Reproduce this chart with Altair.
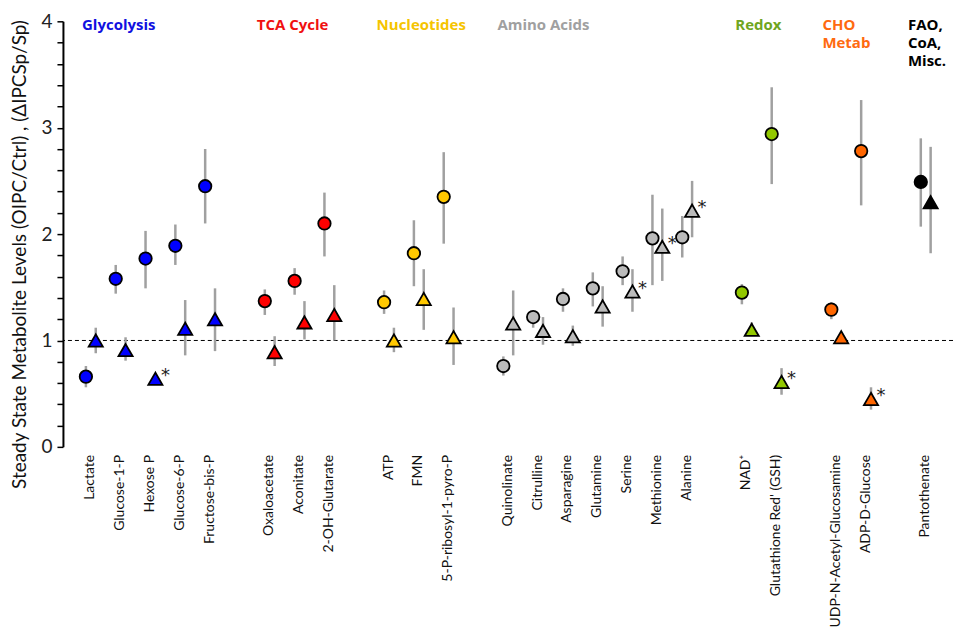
import altair as alt
import pandas as pd

names = ["Lactate", "Glucose-1-P", "Hexose P", "Glucose-6-P", "Fructose-bis-P",
         "Oxaloacetate", "Aconitate", "2-OH-Glutarate",
         "ATP", "FMN", "5-P-ribosyl-1-pyro-P",
         "Quinolinate", "Citrulline", "Asparagine", "Glutamine", "Serine", "Methionine", "Alanine",
         "NAD⁺", "Glutathione Red' (GSH)",
         "UDP-N-Acetyl-Glucosamine", "ADP-D-Glucose",
         "Pantothenate"]
groups = ["Glycolysis"] * 5 + ["TCA Cycle"] * 3 + ["Nucleotides"] * 3 + ["Amino Acids"] * 7 + \
         ["Redox"] * 2 + ["CHO Metab"] * 2 + ["FAO, CoA, Misc."]
slots = [0, 1, 2, 3, 4, 6, 7, 8, 10, 11, 12, 14, 15, 16, 17, 18, 19, 20, 22, 23, 25, 26, 28]

ipc = [0.66, 1.58, 1.77, 1.89, 2.45, 1.37, 1.56, 2.10, 1.36, 1.82, 2.35,
       0.76, 1.22, 1.39, 1.49, 1.65, 1.96, 1.97, 1.45, 2.94, 1.29, 2.78, 2.49]
ipc_lo = [0.56, 1.44, 1.49, 1.71, 2.10, 1.24, 1.43, 1.79, 1.25, 1.51, 1.91,
          0.67, 1.12, 1.27, 1.32, 1.52, 1.52, 1.78, 1.34, 2.47, 1.20, 2.27, 2.07]
ipc_hi = [0.76, 1.71, 2.03, 2.09, 2.80, 1.48, 1.68, 2.39, 1.47, 2.13, 2.77,
          0.85, 1.27, 1.49, 1.64, 1.79, 2.37, 2.17, 1.53, 3.38, 1.36, 3.26, 2.90]
sp = [1.00, 0.91, 0.64, 1.11, 1.20, 0.89, 1.17, 1.24, 1.00, 1.39, 1.03,
      1.16, 1.09, 1.04, 1.32, 1.46, 1.88, 2.22, 1.10, 0.61, 1.03, 0.45, 2.30]
sp_lo = [0.88, 0.81, 0.64, 0.86, 0.90, 0.76, 1.01, 1.00, 0.89, 1.10, 0.77,
         0.86, 0.96, 0.95, 1.13, 1.27, 1.56, 1.97, 1.05, 0.49, 0.98, 0.35, 1.82]
sp_hi = [1.12, 1.03, 0.64, 1.38, 1.49, 1.04, 1.37, 1.52, 1.12, 1.67, 1.31,
         1.47, 1.22, 1.14, 1.51, 1.67, 2.24, 2.50, 1.17, 0.74, 1.08, 0.56, 2.82]
sig = [False, False, True, False, False, False, False, False, False, False, False,
       False, False, False, False, True, True, True, False, True, False, True, False]

group_names = ["Glycolysis", "TCA Cycle", "Nucleotides", "Amino Acids", "Redox", "CHO Metab", "FAO, CoA, Misc."]
group_colors = ["#0000FF", "#FF0000", "#FFC800", "#BBBBBB", "#92C800", "#FF6600", "#000000"]
group_title_colors = ["#1010E0", "#F01010", "#F5C400", "#A0A0A0", "#6FA521", "#FF6A10", "#000000"]
group_title_text = ["Glycolysis", "TCA Cycle", "Nucleotides", "Amino Acids", "Redox", "CHO\nMetab", "FAO,\nCoA,\nMisc."]
group_title_slot = [-0.13, 5.73, 9.75, 13.8, 21.78, 24.7, 27.57]

FONT = "Lato"
TFONT = "Open Sans"

df = pd.DataFrame({
    "name": names, "group": groups, "slot": slots,
    "ipc": ipc, "ipc_lo": ipc_lo, "ipc_hi": ipc_hi,
    "sp": sp, "sp_lo": sp_lo, "sp_hi": sp_hi, "sig": sig,
})
df["slot_tri"] = df["slot"] + 0.33
df["slot_lab"] = df["slot"] + 0.15

gdf = pd.DataFrame({"group": group_names, "text": group_title_text,
                    "slot": group_title_slot, "tcolor": group_title_colors})

xscale = alt.Scale(domain=[-0.77, 29.08], nice=False, zero=False)
yscale = alt.Scale(domain=[0, 4], nice=False, zero=True)
cscale = alt.Scale(domain=group_names, range=group_colors)

tick_vals = [round(i * 0.2, 1) for i in range(21)]

base = alt.Chart(df)

yaxis = alt.Axis(values=tick_vals,
                 labelExpr="abs(datum.value - round(datum.value)) < 0.001 ? format(datum.value, 'd') : ''",
                 labelOverlap=False, labelBound=False,
                 grid=False, domainColor="black", domainWidth=2, tickColor="black",
                 tickWidth=1.5, tickSize=6, labelFontSize=19, labelFont=FONT, labelColor="#222",
                 labelPadding=5,
                 title="Steady State Metabolite Levels  (OIPC/Ctrl) , (ΔIPCSp/Sp)",
                 titleFont=FONT, titleFontSize=19, titleFontWeight="normal", titleColor="#111",
                 titleAngle=270, titleX=-43, titleY=233, titleBaseline="middle", titleAlign="center")


def Y(field):
    return alt.Y(field, scale=yscale, axis=yaxis)


def X(field):
    return alt.X(field, scale=xscale, axis=None)


ref = alt.Chart(pd.DataFrame({"v": [1]})).mark_rule(
    color="black", strokeDash=[4, 3], strokeWidth=1
).encode(y=Y("v:Q"))

err_c = base.mark_rule(color="#A0A0A0", strokeWidth=2.5).encode(
    x=X("slot:Q"), y=Y("ipc_lo:Q"), y2="ipc_hi:Q")
err_t = base.mark_rule(color="#A0A0A0", strokeWidth=2.5).encode(
    x=X("slot_tri:Q"), y=Y("sp_lo:Q"), y2="sp_hi:Q")

circ = base.mark_point(shape="circle", filled=True, size=155, stroke="black",
                       strokeWidth=1.8, opacity=1).encode(
    x=X("slot:Q"), y=Y("ipc:Q"),
    fill=alt.Fill("group:N", scale=cscale, legend=None))
tri = base.mark_point(shape="triangle-up", filled=True, size=200, stroke="black",
                      strokeWidth=1.8, opacity=1).encode(
    x=X("slot_tri:Q"), y=Y("sp:Q"),
    fill=alt.Fill("group:N", scale=cscale, legend=None))

stars = base.transform_filter("datum.sig").mark_text(
    text="*", fontSize=18, font="DejaVu Sans", dx=10, dy=-3, color="#222").encode(
    x=X("slot_tri:Q"), y=Y("sp:Q"))

labels = base.mark_text(angle=270, align="right", baseline="middle", fontSize=14,
                        font=FONT, color="#111").encode(
    x=X("slot_lab:Q"),
    y=alt.value(434),
    text="name:N")

gtitles = alt.Chart(gdf).mark_text(align="left", baseline="top", fontSize=15, font=TFONT,
                                   fontWeight="bold", lineHeight=18, lineBreak="\n").encode(
    x=X("slot:Q"),
    y=alt.value(-3),
    text="text:N",
    color=alt.Color("tcolor:N", scale=None))

chart = alt.layer(ref, err_c, err_t, circ, tri, stars, labels, gtitles).properties(
    width=891, height=426,
    autosize=alt.AutoSizeParams(type="none"),
    padding={"left": 55, "top": 13, "right": 0, "bottom": 182},
).configure_view(stroke=None)

chart.save("out.html", embed_options={"renderer": "svg", "actions": False})
